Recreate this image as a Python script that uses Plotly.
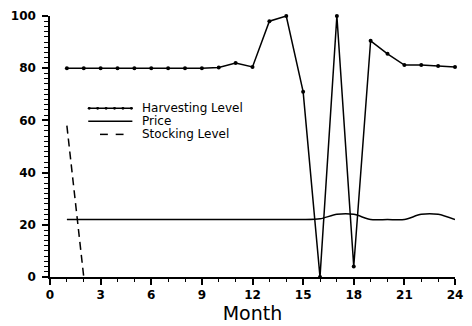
import plotly.graph_objects as go

months = list(range(1, 25))
harvesting = [80, 80, 80, 80, 80, 80, 80, 80, 80, 80.3, 82, 80.5,
              98, 100, 71, 0, 100, 4, 90.5, 85.5, 81.2, 81.2, 80.8, 80.5]
price = [22, 22, 22, 22, 22, 22, 22, 22, 22, 22, 22, 22,
         22, 22, 22, 22.3, 24, 24, 22, 22, 22, 24, 24, 22]
stock_months = [1, 2]
stocking = [58, 0]

x_ticks = list(range(0, 25, 3))
y_ticks = list(range(0, 101, 20))

fig = go.Figure()
fig.add_trace(go.Scatter(x=months, y=harvesting, mode="lines+markers",
                         line=dict(color="black", width=1.5),
                         marker=dict(color="black", size=4),
                         cliponaxis=False, showlegend=False))
fig.add_trace(go.Scatter(x=months, y=price, mode="lines",
                         line=dict(color="black", width=1.5, shape="spline", smoothing=0.8),
                         cliponaxis=False, showlegend=False))
fig.add_trace(go.Scatter(x=stock_months, y=stocking, mode="lines",
                         line=dict(color="black", width=1.5, dash="8px,5px"),
                         cliponaxis=False, showlegend=False))

L, R, T, B = 50, 9, 10, 36
W, H = 472, 326
pw, ph = W - L - R, H - T - B

def px(x):
    return (x - L) / pw

def py(y):
    return (H - B - y) / ph

shapes = []
annotations = []
rows = [("Harvesting Level", 109), ("Price", 123), ("Stocking Level", 137)]
lw = dict(color="black", width=1.5)
# Harvesting sample
y1 = rows[0][1]
shapes.append(dict(type="line", xref="paper", yref="paper", x0=px(89), x1=px(134),
                   y0=py(y1), y1=py(y1), line=lw))
for i in range(6):
    cx = 90 + i * 8.6
    shapes.append(dict(type="circle", xref="paper", yref="paper",
                       x0=px(cx - 1.5), x1=px(cx + 1.5), y0=py(y1 + 1.5), y1=py(y1 - 1.5),
                       fillcolor="black", line=dict(color="black", width=0)))
# Price sample
y2 = rows[1][1]
shapes.append(dict(type="line", xref="paper", yref="paper", x0=px(89), x1=px(134),
                   y0=py(y2), y1=py(y2), line=lw))
# Stocking sample
y3 = rows[2][1]
for a, b in [(101, 109), (117, 125)]:
    shapes.append(dict(type="line", xref="paper", yref="paper", x0=px(a), x1=px(b),
                       y0=py(y3), y1=py(y3), line=lw))
for text, yy in rows:
    annotations.append(dict(text=text, xref="paper", yref="paper", x=px(143), y=py(yy),
                            xanchor="left", yanchor="middle", showarrow=False,
                            borderpad=0,
                            font=dict(family="DejaVu Sans", size=12, color="black")))

fig.update_layout(
    width=W, height=H,
    margin=dict(l=L, r=R, t=T, b=B, pad=0),
    plot_bgcolor="white", paper_bgcolor="white",
    shapes=shapes, annotations=annotations,
    showlegend=False,
)
fig.update_xaxes(range=[0, 24], tickvals=x_ticks, ticktext=[str(v) for v in x_ticks],
                 showgrid=False, zeroline=False, showline=True, linecolor="black", linewidth=1.5,
                 ticks="outside", ticklen=6, tickwidth=1.5, tickcolor="black",
                 minor=dict(dtick=1, tick0=0, ticks="outside", ticklen=3, tickwidth=1.2, tickcolor="black"),
                 tickfont=dict(family="DejaVu Sans", size=12, color="black", weight="bold"),
                 title=dict(text="Month", standoff=2,
                            font=dict(family="DejaVu Sans", size=19, color="black")))
fig.update_yaxes(range=[0, 100], tickvals=y_ticks, ticktext=[str(v) for v in y_ticks],
                 showgrid=False, zeroline=False, showline=True, linecolor="black", linewidth=1.5,
                 ticks="outside", ticklen=6, tickwidth=1.5, tickcolor="black",
                 ticklabelstandoff=4,
                 minor=dict(dtick=2, tick0=0, ticks="outside", ticklen=4, tickwidth=1.2, tickcolor="black"),
                 tickfont=dict(family="DejaVu Sans", size=12, color="black", weight="bold"))

fig.write_html("out.html", config={"displayModeBar": False})
